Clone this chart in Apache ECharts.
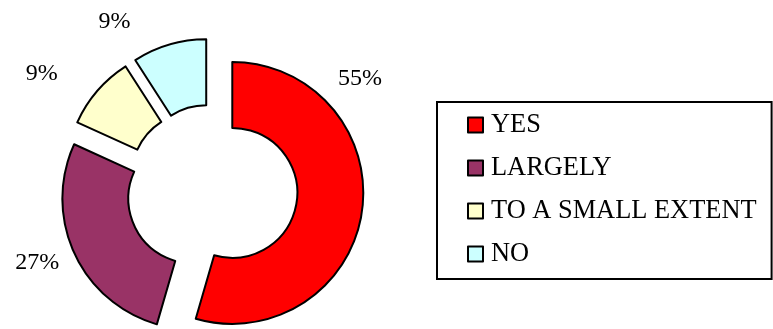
<!DOCTYPE html>
<html>
<head>
<meta charset="utf-8">
<script src="https://cdn.jsdelivr.net/npm/echarts@6/dist/echarts.min.js"></script>
<style>
html,body{margin:0;padding:0;background:#fff;}
#chart{width:773px;height:329px;}
</style>
</head>
<body>
<div id="chart"></div>
<script>
var categories = ['YES', 'LARGELY', 'TO A SMALL EXTENT', 'NO'];
var values = [54.5, 27.3, 9.1, 9.1];
var colors = ['#FF0000', '#993366', '#FFFFCC', '#CCFFFF'];

var labelShifts = [[-39, -134], [-1, 5], [-27, -11], [-31, -13]];

var chart = echarts.init(document.getElementById('chart'), null, {renderer: 'canvas'});
var data = categories.map(function (c, i) {
  return {
    name: c,
    value: values[i],
    selected: true,
    itemStyle: {color: colors[i]}
  };
});
chart.setOption({
  backgroundColor: '#ffffff',
  animation: false,
  legend: {
    orient: 'vertical',
    left: 437,
    top: 102,
    data: categories,
    icon: 'rect',
    itemWidth: 15,
    itemHeight: 15,
    itemGap: 17,
    selectedMode: false,
    borderColor: '#000',
    borderWidth: 2,
    borderRadius: 0,
    padding: [10, 15, 12, 30],
    itemStyle: {borderColor: '#000', borderWidth: 2},
    textStyle: {fontFamily: 'Liberation Serif', fontSize: 26.4, color: '#000', padding: [0, 0, 0, 3]}
  },
  series: [{
    type: 'pie',
    center: [212, 190],
    radius: [65, 131],
    startAngle: 90,
    clockwise: true,
    selectedMode: 'multiple',
    selectedOffset: 20.5,
    avoidLabelOverlap: false,
    percentPrecision: 0,
    itemStyle: {borderColor: '#000', borderWidth: 2},
    emphasis: {disabled: true},
    select: {itemStyle: {borderColor: '#000', borderWidth: 2}},
    label: {
      show: true,
      position: 'outside',
      formatter: '{d}%',
      fontFamily: 'Liberation Serif',
      fontSize: 24,
      color: '#000'
    },
    labelLine: {show: false, length: 10, length2: 0},
    labelLayout: function (params) {
      var s = labelShifts[params.dataIndex];
      return {dx: s[0], dy: s[1]};
    },
    data: data
  }]
});
</script>
</body>
</html>
